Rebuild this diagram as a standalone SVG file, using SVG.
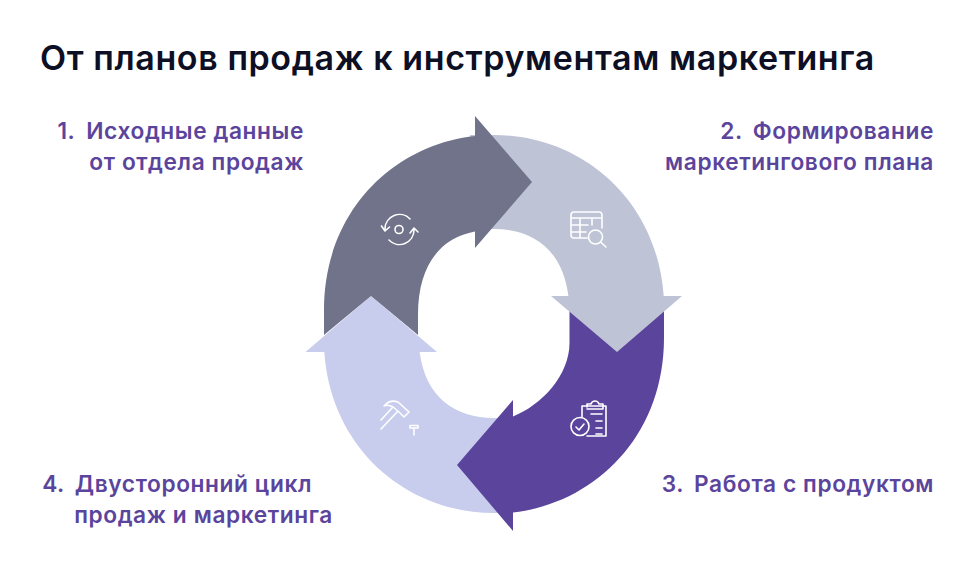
<svg xmlns="http://www.w3.org/2000/svg" width="961" height="572" viewBox="0 0 961 572">
<style>
text{font-family:"Inter","Liberation Sans",sans-serif;font-weight:600}
.t{font-size:34px;letter-spacing:.6px;fill:#0d0f24}
.l{font-size:22.700px;letter-spacing:.6px;fill:#5b449c}
.i{fill:none;stroke:#fff;stroke-width:1.600;stroke-linecap:round;stroke-linejoin:round}
</style>
<rect width="961" height="572" fill="#fff"/>
<text class="t" x="40" y="70">От планов продаж к инструментам маркетинга</text>
<g id="connectors">
<path id="arrow4" fill="#c8cdee" d="M371 296L437 352H419.600C425.500 397.300 455 418 494 418H505V513H494C407 513 331 449 324.300 352H305.500Z"/>
<path id="arrow3" fill="#5b449c" d="M569.500 300V343C569.500 375 542 405 513 416.400V400L457 465L513 531V512.500C595.700 502.900 664 435.700 664 338V300Z"/>
<path id="arrow2" fill="#bfc3d6" d="M470 135H494C581 135 657 199 663.700 296H682L617 352L551 296H568.400C562.500 249.700 533.200 229 494 229H470Z"/>
<path id="arrow1" fill="#70738a" d="M324 335V310C324 212.300 392.300 145.100 475 136V116L532 182L475 248V231.600C441.500 237.900 418 263.600 418 315V335L371 296Z"/>
</g>
<g id="node1"><text class="l" text-anchor="end" x="304" y="139">1.<tspan dx="5"> Исходные данные</tspan></text><text class="l" text-anchor="end" x="304" y="170">от отдела продаж</text>
<g class="i"><circle cx="399" cy="229.500" r="4"/><path d="M385 229A14.500 14.500 0 0 1 410 219M414 230A14.500 14.500 0 0 1 389 240M381.500 226L385 231L389.500 227M410 233L414 228L418 232"/></g></g>
<g id="node2"><text class="l" text-anchor="end" x="934" y="139">2.<tspan dx="4"> Формирование</tspan></text><text class="l" text-anchor="end" x="934" y="170">маркетингового плана</text>
<g class="i"><path d="M587 238H574Q571 238 571 235V215Q571 212 574 212H599Q602 212 602 215V228M571 218H602M571 225H588M571 232H586M580 218V238M592 218V225"/><circle cx="595.500" cy="237" r="7"/><path d="M600.500 242L606 247"/></g></g>
<g id="node3"><text class="l" text-anchor="end" x="934" y="492">3.<tspan dx="4"> Работа с продуктом</tspan></text>
<g class="i"><path d="M582 417V406H606V436H587M587 407V404H591Q592 401 595 401T599 404H603V409H587M591 414H602M596 421H602M596 428H602M596 434H602"/><circle cx="580" cy="426.500" r="9"/><path d="M576 427L579 430L584 424"/></g></g>
<g id="node4"><text class="l" text-anchor="end" x="312" y="492">4.<tspan dx="4"> Двусторонний цикл</tspan></text><text class="l" text-anchor="end" x="333" y="523">продаж и маркетинга</text>
<g class="i"><path d="M381 420L392 408M381 429L398 411M384 406Q390 399 398 402L409 412L404 417L399 412L393 407Q388 404 384 406ZM409 412L404 417L401 414"/><path d="M410 425.500H418V428H410ZM414 428V435"/></g></g>
</svg>
